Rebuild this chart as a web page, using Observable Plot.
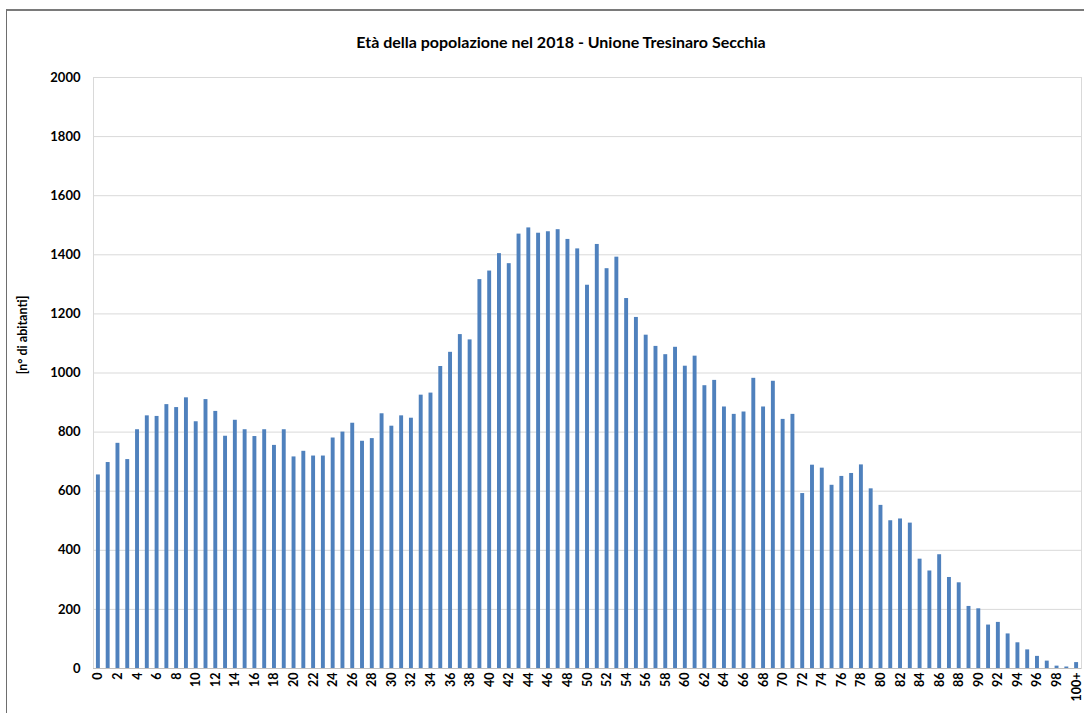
<!DOCTYPE html>
<html>
<head>
<meta charset="utf-8">
<script src="https://cdn.jsdelivr.net/npm/d3@7"></script>
<script src="https://cdn.jsdelivr.net/npm/@observablehq/plot@0.6"></script>
<style>
  html, body { margin: 0; padding: 0; background: #fff; }
  #wrap { position: relative; width: 1084px; height: 713px; overflow: hidden; font-family: Lato, "Open Sans", sans-serif; }
  #frame { position: absolute; left: 6px; top: 9px; width: 1090px; height: 720px; border-left: 1.5px solid #6e6e6e; border-top: 2px solid #7a7a7a; box-sizing: border-box; pointer-events: none; }
  #title { position: absolute; left: 0; width: 1122px; top: 32px; text-align: center; font-weight: bold; font-size: 16px; color: #000; }
  #ylabel { position: absolute; left: 22px; top: 335px; transform: translate(-50%, -50%) rotate(-90deg); white-space: nowrap; font-weight: bold; font-size: 12.5px; color: #000; }
  #chart { position: absolute; left: 0; top: 0; }
</style>
</head>
<body>
<div id="wrap">
  <div id="chart"></div>
  <div id="frame"></div>
  <div id="title">Età della popolazione nel 2018 - Unione Tresinaro Secchia</div>
  <div id="ylabel">[n° di abitanti]</div>
</div>
<script>
const ages = [
  "0","1","2","3","4","5","6","7","8","9",
  "10","11","12","13","14","15","16","17","18","19",
  "20","21","22","23","24","25","26","27","28","29",
  "30","31","32","33","34","35","36","37","38","39",
  "40","41","42","43","44","45","46","47","48","49",
  "50","51","52","53","54","55","56","57","58","59",
  "60","61","62","63","64","65","66","67","68","69",
  "70","71","72","73","74","75","76","77","78","79",
  "80","81","82","83","84","85","86","87","88","89",
  "90","91","92","93","94","95","96","97","98","99",
  "100+"
];
const abitanti = [
  655, 697, 762, 707, 808, 855, 853, 893, 883, 916,
  835, 910, 870, 786, 840, 808, 785, 808, 755, 808,
  716, 735, 719, 719, 780, 800, 830, 769, 778, 862,
  820, 855, 847, 925, 932, 1022, 1070, 1130, 1112, 1316,
  1345, 1404, 1370, 1470, 1491, 1473, 1478, 1485, 1452, 1420,
  1297, 1435, 1353, 1392, 1252, 1188, 1128, 1090, 1062, 1087,
  1023, 1057, 957, 975, 885, 860, 868, 982, 885, 972,
  843, 860, 592, 688, 678, 620, 650, 660, 689, 608,
  552, 500, 506, 492, 370, 330, 385, 308, 290, 210,
  202, 147, 156, 117, 87, 63, 41, 25, 8, 5,
  20
];
const yTicks = [0, 200, 400, 600, 800, 1000, 1200, 1400, 1600, 1800, 2000];
const xTickLabels = ages.filter((d, i) => i % 2 === 0);

const data = ages.map((a, i) => ({age: a, value: abitanti[i]}));

const chart = Plot.plot({
  width: 1084,
  height: 713,
  marginLeft: 93,
  marginRight: 3,
  marginTop: 77,
  marginBottom: 45,
  style: {fontFamily: "Lato, 'Open Sans', sans-serif", fontWeight: "bold", fontSize: "12px", color: "#000", background: "transparent", overflow: "visible"},
  x: {type: "band", domain: ages, paddingInner: 0.6, paddingOuter: 0.3, label: null, axis: null},
  y: {domain: [0, 2000], label: null, axis: null},
  marks: [
    Plot.gridY(yTicks, {stroke: "#d9d9d9", strokeOpacity: 1, strokeWidth: 1}),
    Plot.frame({stroke: "#d9d9d9", strokeWidth: 1}),
    Plot.barY(data, {x: "age", y: "value", fill: "#4f81bd"}),
    Plot.ruleY([0], {stroke: "#c0c0c0", strokeWidth: 1}),
    Plot.axisY(yTicks, {tickSize: 0, tickPadding: 13, label: null, tickFormat: d => String(d), fontWeight: "bold", fontSize: 13}),
    Plot.axisX(xTickLabels, {tickSize: 0, tickPadding: 4, tickRotate: -90, label: null, fontWeight: "bold", fontSize: 12.5})
  ]
});
document.getElementById("chart").appendChild(chart);
</script>
</body>
</html>
